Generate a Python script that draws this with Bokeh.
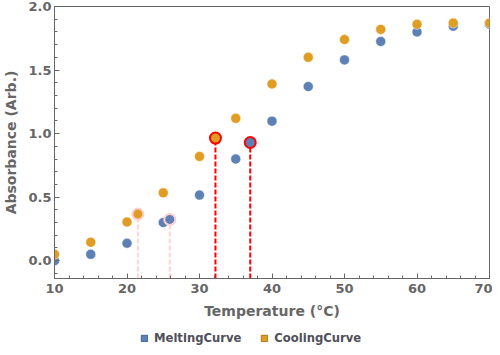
from bokeh.plotting import figure
from bokeh.models import Range1d, Legend, LegendItem, NumeralTickFormatter
from bokeh.layouts import column
from bokeh.embed import file_html
from bokeh.resources import INLINE

temperature = [10, 15, 20, 25, 30, 35, 40, 45, 50, 55, 60, 65, 70]
melting = [0.0, 0.05, 0.137, 0.30, 0.516, 0.80, 1.098, 1.37, 1.58, 1.725, 1.80, 1.845, 1.86]
cooling = [0.05, 0.145, 0.304, 0.534, 0.82, 1.12, 1.39, 1.60, 1.74, 1.82, 1.86, 1.87, 1.87]

# marked transition points
strong_x = [32.2, 37.0]
strong_y = [0.965, 0.93]
faint_x = [21.5, 25.9]
faint_y = [0.367, 0.325]

series_names = ["MeltingCurve", "CoolingCurve"]

BLUE = "#5E81B5"
ORANGE = "#E19C24"
GRAY = "#666666"
FONT = "DejaVu Sans"

y_start, y_end = -0.14, 2.0

p = figure(width=492, height=322,
           output_backend="svg", toolbar_location=None,
           x_range=Range1d(10, 70), y_range=Range1d(y_start, y_end),
           min_border_left=51, min_border_right=3, min_border_top=6, min_border_bottom=44)

p.background_fill_color = "white"
p.border_fill_color = "white"
p.outline_line_color = GRAY
p.outline_line_width = 1
p.xgrid.visible = False
p.ygrid.visible = False

for ax in (p.xaxis[0], p.yaxis[0]):
    ax.axis_line_color = GRAY
    ax.major_tick_line_color = GRAY
    ax.minor_tick_line_color = GRAY
    ax.major_tick_in = 5
    ax.major_tick_out = 0
    ax.minor_tick_in = 3
    ax.minor_tick_out = 0
    ax.major_label_text_font = FONT
    ax.major_label_text_font_style = "bold"
    ax.major_label_text_font_size = "13px"
    ax.major_label_text_color = GRAY
    ax.axis_label_text_font = FONT
    ax.axis_label_text_font_style = "bold"
    ax.axis_label_text_font_size = "14px"
    ax.axis_label_text_color = GRAY

p.xaxis[0].ticker.desired_num_ticks = 7
p.xaxis[0].ticker.num_minor_ticks = 5
p.yaxis[0].ticker.num_minor_ticks = 5
p.xaxis.axis_label = "Temperature (°C)"
p.yaxis.axis_label = "Absorbance (Arb.)"
p.xaxis.major_label_standoff = 5
p.xaxis.axis_label_standoff = 7
p.yaxis.major_label_standoff = 3
p.yaxis.axis_label_standoff = 6
p.yaxis.formatter = NumeralTickFormatter(format="0.0")

# drop lines
p.segment(x0=faint_x, y0=[y_start] * 2, x1=faint_x, y1=faint_y,
          line_color="#FFC8C8", line_width=2, line_dash="5 2", line_alpha=0.8)
p.segment(x0=strong_x, y0=[y_start] * 2, x1=strong_x, y1=strong_y,
          line_color="#FF0000", line_width=2, line_dash="5 2")

# data points
p.scatter(temperature, melting, size=10, fill_color=BLUE, line_color="white", line_width=0.5)
p.scatter(temperature, cooling, size=10, fill_color=ORANGE, line_color="white", line_width=0.5)

# highlighted points
p.scatter(faint_x, faint_y, size=11, fill_color=[ORANGE, BLUE],
          line_color="#FFD0D0", line_width=2)
p.scatter(strong_x, strong_y, size=11, fill_color=[ORANGE, BLUE],
          line_color="#FF0000", line_width=2)

# legend strip below the chart
lf = figure(width=492, height=25, output_backend="svg", toolbar_location=None,
            x_range=Range1d(10, 70), y_range=Range1d(y_start, y_end),
            min_border=0)
lf.axis.visible = False
lf.grid.visible = False
lf.outline_line_color = None
lf.background_fill_color = "white"
lf.border_fill_color = "white"

r_m = lf.rect(temperature, melting, width=1, height=0.1, fill_color=BLUE,
              line_color="#44618F", visible=False)
r_c = lf.rect(temperature, cooling, width=1, height=0.1, fill_color=ORANGE,
              line_color="#A87418", visible=False)
legend = Legend(items=[LegendItem(label=series_names[0], renderers=[r_m]),
                       LegendItem(label=series_names[1], renderers=[r_c])],
                orientation="horizontal", location=(86, 2),
                border_line_alpha=0, background_fill_alpha=0,
                inactive_fill_alpha=0,
                label_text_font=FONT, label_text_font_style="bold",
                label_text_font_size="11.6px", label_text_color="#4F4F5A",
                glyph_width=8, glyph_height=8, label_standoff=6, spacing=19,
                padding=0, margin=0, label_height=12)
lf.add_layout(legend, "center")

layout = column(p, lf, spacing=0)
open("out.html", "w").write(file_html(layout, INLINE))
